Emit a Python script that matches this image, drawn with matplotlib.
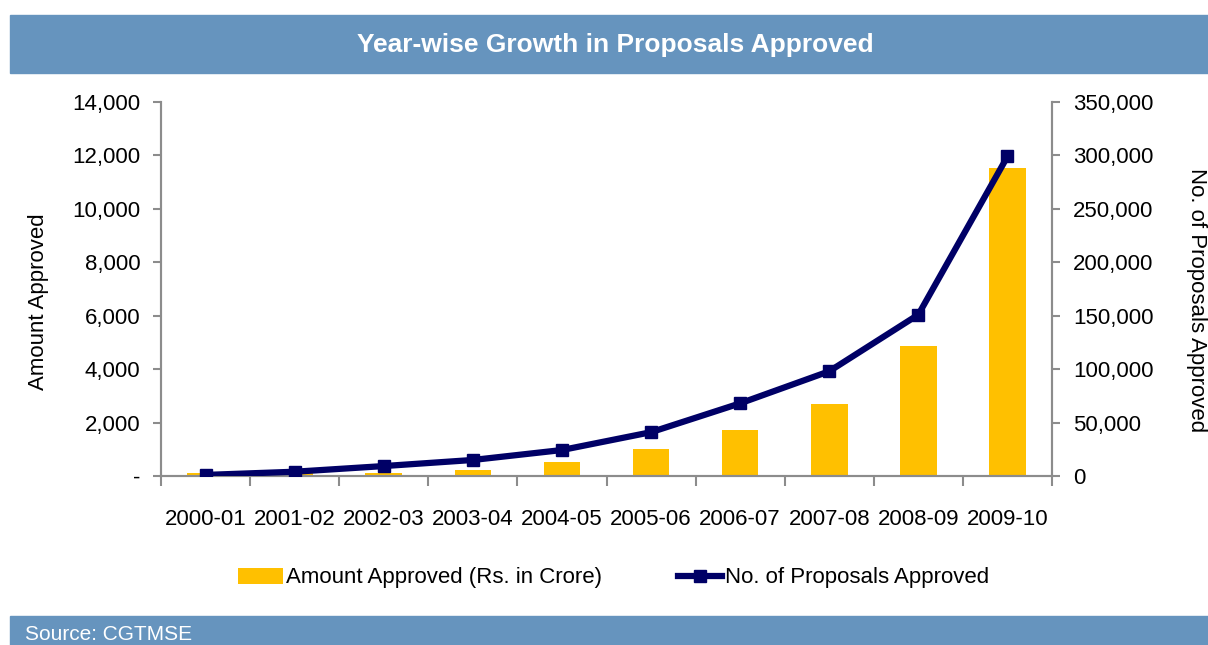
import numpy as np
import matplotlib
matplotlib.use('Agg')
import matplotlib.pyplot as plt
from matplotlib.patches import Rectangle
from matplotlib.ticker import FuncFormatter, MultipleLocator

plt.rcParams['font.family'] = ['Liberation Sans', 'DejaVu Sans']

# yearly figures
years = ['2000-01', '2001-02', '2002-03', '2003-04', '2004-05',
         '2005-06', '2006-07', '2007-08', '2008-09', '2009-10']
amount_approved = [110, 95, 130, 225, 520, 1000, 1715, 2690, 4850, 11530]
proposals_approved = [1000, 4000, 9300, 15000, 24300, 41000, 68000, 98000, 151000, 299000]

band_col = '#6694BE'
bar_col = '#FFC000'
line_col = '#000066'
spine_col = '#8C8C8C'
fs = 16

fig = plt.figure(figsize=(12.08, 6.45), dpi=100)

# header / footer bands
fig.patches.append(Rectangle((10 / 1208, 1 - 73 / 645), 1, 58 / 645,
                             transform=fig.transFigure, color=band_col, zorder=0))
fig.patches.append(Rectangle((10 / 1208, 0), 1, 29 / 645,
                             transform=fig.transFigure, color=band_col, zorder=0))
fig.text(615 / 1208, 1 - 45 / 645, 'Year-wise Growth in Proposals Approved',
         ha='center', va='center', color='white', fontsize=19, fontweight='bold')
fig.text(25 / 1208, 1 - 634 / 645, 'Source: CGTMSE', ha='left', va='center',
         color='white', fontsize=15)

ax = fig.add_axes([161 / 1208, 1 - 476 / 645, 891 / 1208, 374 / 645])
x = np.arange(len(years))
bars = ax.bar(x, amount_approved, width=0.41, color=bar_col,
              label='Amount Approved (Rs. in Crore)', zorder=2)
ax.set_xlim(-0.5, len(years) - 0.5)
ax.set_ylim(0, 14000)
ax.yaxis.set_major_locator(MultipleLocator(2000))
ax.yaxis.set_major_formatter(FuncFormatter(lambda v, p: '-' if v == 0 else f'{v:,.0f}'))
ax.set_ylabel('Amount Approved', fontsize=fs, va='center')
ax.yaxis.set_label_coords(-0.138, 0.465)

# x ticks sit on the category boundaries, labels centred under each bar
ax.set_xticks(np.arange(-0.5, len(years), 1.0))
ax.set_xticklabels([])
ax.set_xticks(x, minor=True)
ax.set_xticklabels(years, minor=True, fontsize=fs)
ax.tick_params(axis='x', which='minor', length=0, pad=24)
ax.tick_params(axis='x', which='major', length=7, color=spine_col, width=1.5)
ax.tick_params(axis='y', length=6, color=spine_col, width=1.5, labelsize=fs, pad=9)

ax2 = ax.twinx()
line, = ax2.plot(x, proposals_approved, color=line_col, lw=4.5, marker='s',
                 markersize=9, label='No. of Proposals Approved', zorder=3)
ax2.set_ylim(0, 350000)
ax2.yaxis.set_major_locator(MultipleLocator(50000))
ax2.yaxis.set_major_formatter(FuncFormatter(lambda v, p: f'{v:,.0f}'))
ax2.tick_params(axis='y', length=6, color=spine_col, width=1.5, labelsize=fs, pad=9)
ax2.set_ylabel('No. of Proposals Approved', fontsize=fs, rotation=-90, va='center')
ax2.yaxis.set_label_coords(1.162, 0.47)

for a in (ax, ax2):
    a.spines['top'].set_visible(False)
    for s in ('left', 'right', 'bottom'):
        a.spines[s].set_color(spine_col)
        a.spines[s].set_linewidth(1.5)

fig.legend(handles=[bars, line], loc='center', bbox_to_anchor=(614 / 1208, 1 - 578 / 645),
           ncol=2, frameon=False, fontsize=fs, handlelength=2.0, handletextpad=0.15,
           columnspacing=3.4)

fig.savefig('out.png', dpi=100)
